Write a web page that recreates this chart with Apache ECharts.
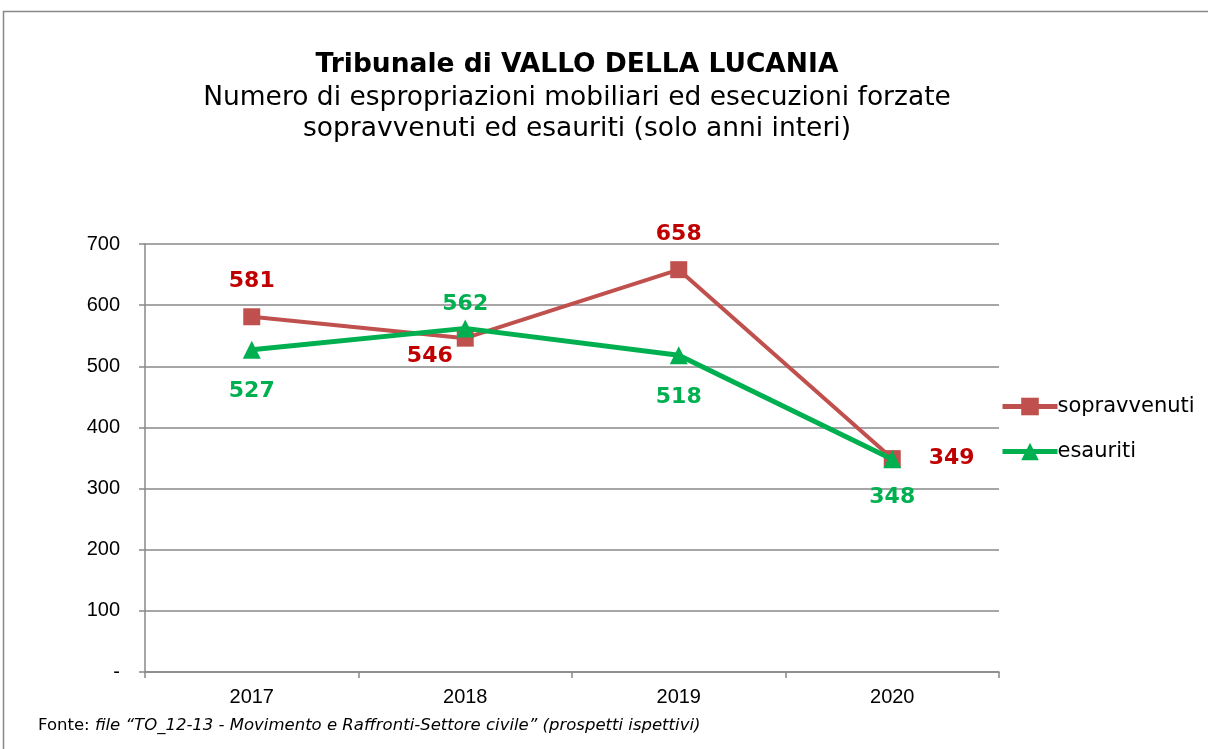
<!DOCTYPE html>
<html>
<head>
<meta charset="utf-8">
<script src="https://cdn.jsdelivr.net/npm/echarts@6/dist/echarts.min.js"></script>
<style>
  html, body { margin: 0; padding: 0; background: #fff; }
  #chart { width: 1208px; height: 749px; }
</style>
</head>
<body>
<div id="chart"></div>
<script>
// dati del grafico
var anni = ['2017', '2018', '2019', '2020'];
var sopravvenuti = [581, 546, 658, 349];
var esauriti = [527, 562, 518, 348];
// posizione delle etichette per ogni punto
var posSopravvenuti = ['top', 'left', 'top', 'right'];
var posEsauriti = ['bottom', 'top', 'bottom', 'bottom'];
var distSopravvenuti = [16, 6, 16, 28];
var distEsauriti = [22, 4, 22, 18];

var chart = echarts.init(document.getElementById('chart'));

function labelFor(pos, dist, color) {
  var cfg = { show: true, position: pos, distance: dist, color: color, fontFamily: 'DejaVu Sans', fontWeight: 'bold', fontSize: 22 };
  if (pos === 'left') { cfg.offset = [2, 18]; }
  return cfg;
}

var option = {
  animation: false,
  title: {
    text: 'Tribunale di VALLO DELLA LUCANIA',
    subtext: 'Numero di espropriazioni mobiliari ed esecuzioni forzate\nsopravvenuti ed esauriti (solo anni interi)',
    left: 572,
    textAlign: 'center',
    top: 47,
    itemGap: 4,
    textStyle: { fontFamily: 'DejaVu Sans', fontWeight: 'bold', fontSize: 26.5, color: '#000' },
    subtextStyle: { fontFamily: 'DejaVu Sans', fontSize: 26.5, color: '#000', lineHeight: 31 }
  },
  legend: {
    orient: 'vertical',
    left: 1000,
    top: 396,
    padding: 0,
    itemGap: 24,
    itemWidth: 55,
    itemHeight: 22,
    lineStyle: { width: 5 },
    textStyle: { fontFamily: 'DejaVu Sans', fontSize: 21, color: '#000', padding: [0, 0, 0, -5] },
    data: ['sopravvenuti', 'esauriti']
  },
  grid: { left: 145, right: 209, top: 244, bottom: 77 },
  xAxis: {
    type: 'category',
    data: anni,
    boundaryGap: true,
    axisLine: { lineStyle: { color: '#888', width: 1.5 } },
    axisTick: { show: true, length: 6, lineStyle: { color: '#888', width: 1.5 } },
    axisLabel: { color: '#000', fontFamily: 'Liberation Sans', fontSize: 20, margin: 15 }
  },
  yAxis: {
    type: 'value',
    min: 0,
    max: 700,
    interval: 100,
    axisLine: { show: true, lineStyle: { color: '#888', width: 1.5 } },
    axisTick: { show: true, length: 6, lineStyle: { color: '#888', width: 1.5 } },
    splitLine: { lineStyle: { color: '#888', width: 1.5 } },
    axisLabel: {
      color: '#000', fontFamily: 'Liberation Sans', fontSize: 20, margin: 25,
      formatter: function (v) { return v === 0 ? '-' : String(v); }
    }
  },
  series: [
    {
      name: 'sopravvenuti',
      type: 'line',
      data: sopravvenuti.map(function (v, i) { return { value: v, label: labelFor(posSopravvenuti[i], distSopravvenuti[i], '#C00000') }; }),
      symbol: 'rect',
      symbolSize: 17,
      lineStyle: { color: '#C0504D', width: 4 },
      itemStyle: { color: '#C0504D' },
      z: 2
    },
    {
      name: 'esauriti',
      type: 'line',
      data: esauriti.map(function (v, i) { return { value: v, label: labelFor(posEsauriti[i], distEsauriti[i], '#00B050') }; }),
      symbol: 'triangle',
      symbolSize: 18,
      lineStyle: { color: '#00B050', width: 5 },
      itemStyle: { color: '#00B050' },
      z: 3
    }
  ],
  graphic: [
    {
      type: 'rect',
      shape: { x: 3.5, y: 11.5, width: 1250, height: 800 },
      style: { fill: 'none', stroke: '#888', lineWidth: 1.5 },
      silent: true
    },
    {
      type: 'text',
      left: 38,
      top: 717,
      style: {
        text: '{n|Fonte: }{i|file “TO_12-13 - Movimento e Raffronti-Settore civile” (prospetti ispettivi)}',
        rich: {
          n: { fontFamily: 'DejaVu Sans', fontSize: 16.5, fill: '#000' },
          i: { fontFamily: 'DejaVu Sans', fontStyle: 'italic', fontSize: 16.5, fill: '#000' }
        }
      }
    }
  ]
};

chart.setOption(option);
</script>
</body>
</html>
